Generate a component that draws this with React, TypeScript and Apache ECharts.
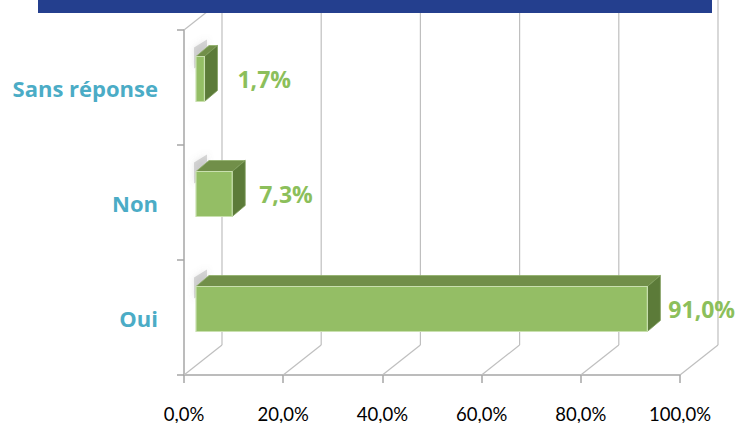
import React, { useEffect, useRef } from "react";
import * as echarts from "echarts";

const categories = ["Oui", "Non", "Sans réponse"];
const values = [91.0, 7.3, 1.7];
const xTicks = [0, 20, 40, 60, 80, 100];

const fmt = (v: number) => v.toFixed(1).replace(".", ",") + "%";

const WALL_DX = 38;
const WALL_DY = -30;
const FRONT_DX = 12;
const FRONT_DY = -8.5;
const BAR_DX = 13;
const BAR_DY = -11;
const BAR_HALF = 22.5;

export default function App() {
  const ref = useRef<HTMLDivElement>(null);
  useEffect(() => {
    if (!ref.current) return;
    const chart = echarts.init(ref.current, null, { renderer: "svg" });
    const option: any = {
      animation: false,
      backgroundColor: "#ffffff",
      graphic: [
        {
          type: "rect",
          shape: { x: 38, y: 0, width: 674, height: 13 },
          style: { fill: "#243F8E" },
          z: 100,
        },
      ],
      grid: { left: 184, right: 56, top: 30, bottom: 45, containLabel: false },
      xAxis: {
        type: "value",
        min: 0,
        max: 100,
        interval: 20,
        splitLine: { show: false },
        axisLine: { show: true, lineStyle: { color: "#A6A6A6", width: 1.5 } },
        axisTick: { show: true, length: 8, lineStyle: { color: "#A6A6A6", width: 1.5 } },
        axisLabel: {
          formatter: (v: number) => fmt(v),
          color: "#000000",
          fontFamily: "Lato",
          fontSize: 18.5,
          margin: 29,
        },
      },
      yAxis: {
        type: "category",
        data: categories,
        boundaryGap: true,
        axisLine: { show: true, lineStyle: { color: "#A6A6A6", width: 1.5 } },
        axisTick: { show: true, length: 7, lineStyle: { color: "#A6A6A6", width: 1.5 } },
        axisLabel: {
          color: "#4BACC6",
          fontFamily: "Open Sans",
          fontWeight: "bold",
          fontSize: 22,
          margin: 26,
        },
        splitLine: { show: false },
      },
      series: [
        {
          type: "custom",
          z: 1,
          silent: true,
          data: xTicks.map((t) => [t, 0]),
          renderItem: (params: any, api: any) => {
            const v = api.value(0);
            const cs = params.coordSys;
            const x = api.coord([v, 0])[0];
            const bottom = cs.y + cs.height;
            const top = cs.y;
            const ls = { stroke: "#BFBFBF", lineWidth: 1.2, fill: null };
            const children: any[] = [
              {
                type: "line",
                shape: { x1: x, y1: bottom, x2: x + WALL_DX, y2: bottom + WALL_DY },
                style: ls,
              },
              {
                type: "line",
                shape: { x1: x + WALL_DX, y1: bottom + WALL_DY, x2: x + WALL_DX, y2: top + WALL_DY },
                style: ls,
              },
            ];
            if (v === 0) {
              children.push({
                type: "line",
                shape: { x1: x, y1: top, x2: x + WALL_DX, y2: top + WALL_DY },
                style: ls,
              });
            }
            return { type: "group", children };
          },
        },
        {
          type: "custom",
          z: 5,
          data: values.map((v, i) => [v, i]),
          renderItem: (params: any, api: any) => {
            const v = api.value(0);
            const idx = api.value(1);
            const p0 = api.coord([0, idx]);
            const p1 = api.coord([v, idx]);
            const x0 = p0[0] + FRONT_DX;
            const x1 = p1[0] + FRONT_DX;
            const cy = p0[1] + FRONT_DY;
            const yt = cy - BAR_HALF;
            const yb = cy + BAR_HALF;
            const labelGap = 8 + 6 * idx;
            return {
              type: "group",
              children: [
                {
                  type: "polygon",
                  shape: {
                    points: [
                      [x0 - 2, yt + BAR_DY + 2],
                      [x0 + BAR_DX - 2, yt + BAR_DY - 6],
                      [x0 + BAR_DX - 2, yt + 4],
                      [x0 - 2, yt + 12],
                    ],
                  },
                  style: { fill: "rgba(150,150,150,0.35)", shadowBlur: 6, shadowColor: "rgba(120,120,120,0.5)" },
                },
                {
                  type: "polygon",
                  shape: {
                    points: [
                      [x0, yt],
                      [x1, yt],
                      [x1 + BAR_DX, yt + BAR_DY],
                      [x0 + BAR_DX, yt + BAR_DY],
                    ],
                  },
                  style: { fill: "#718F49", stroke: "#8FAF68", lineWidth: 0.8 },
                },
                {
                  type: "polygon",
                  shape: {
                    points: [
                      [x1, yt],
                      [x1 + BAR_DX, yt + BAR_DY],
                      [x1 + BAR_DX, yb + BAR_DY],
                      [x1, yb],
                    ],
                  },
                  style: { fill: "#5C7B39", stroke: "#7E9C5B", lineWidth: 0.8 },
                },
                {
                  type: "rect",
                  shape: { x: x0, y: yt, width: x1 - x0, height: yb - yt },
                  style: { fill: "#94BE65", stroke: "#C9E0AF", lineWidth: 1.2 },
                },
                {
                  type: "text",
                  style: {
                    text: fmt(v),
                    x: x1 + BAR_DX + labelGap,
                    y: cy,
                    fill: "#8CBF5B",
                    fontFamily: "Open Sans",
                    fontWeight: "bold",
                    fontSize: 23,
                    align: "left",
                    verticalAlign: "middle",
                  },
                },
              ],
            };
          },
        },
      ],
    };
    chart.setOption(option);
    return () => chart.dispose();
  }, []);
  return (
    <div
      ref={ref}
      style={{ position: "fixed", left: 0, top: 0, width: 736, height: 423, background: "#fff" }}
    />
  );
}
